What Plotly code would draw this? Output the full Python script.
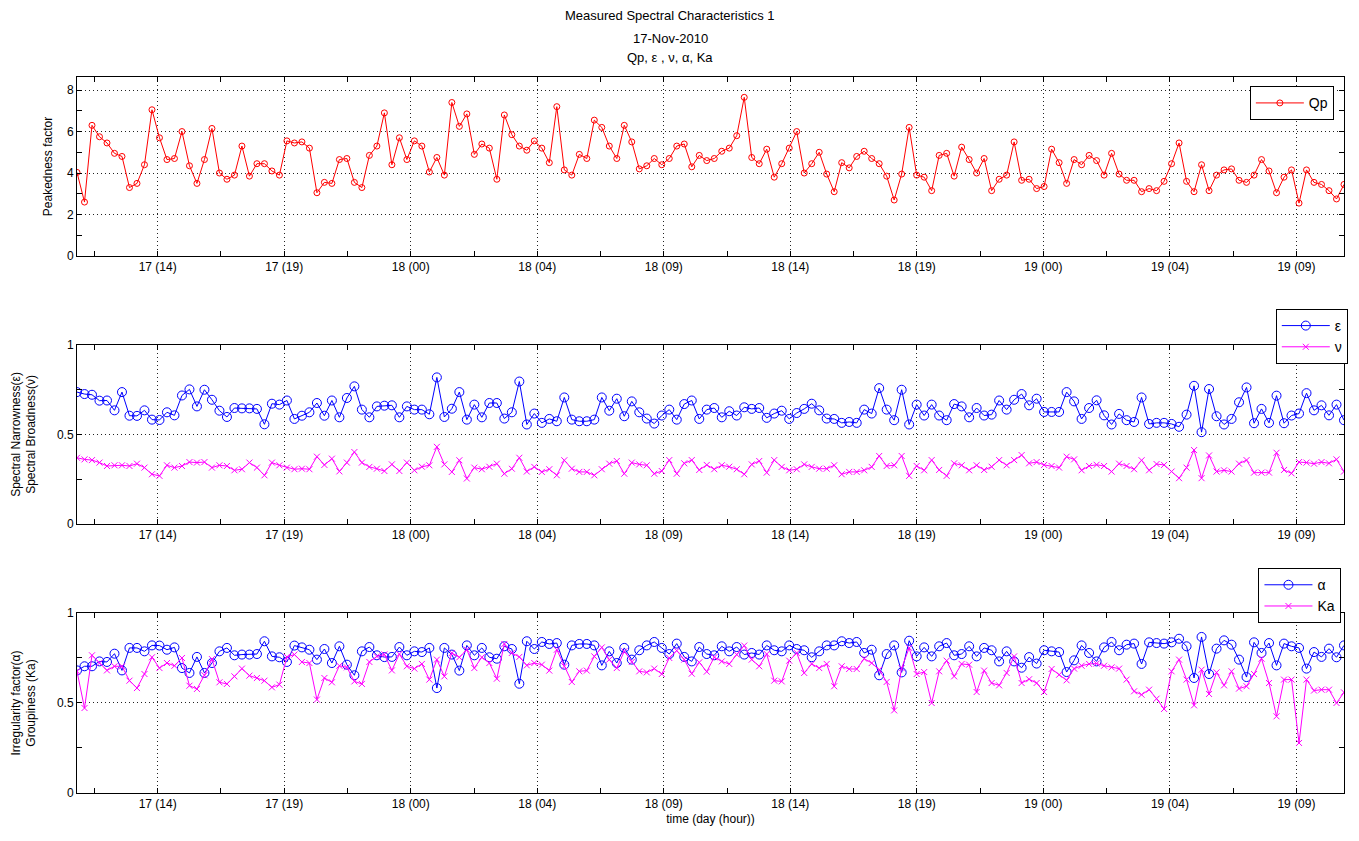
import plotly.graph_objects as go

# ---------------- data ----------------
start_hour = 11.44          # hours since 17-Nov-2010 00:00 of first sample
step_hours = 0.2844         # sampling interval (hours)

tick_hours = [14.5, 19.3, 24.1, 28.9, 33.7, 38.5, 43.3, 48.1, 52.9, 57.7]
tick_labels = ["17 (14)", "17 (19)", "18 (00)", "18 (04)", "18 (09)",
               "18 (14)", "18 (19)", "19 (00)", "19 (04)", "19 (09)"]
minor_tick_hours = [12.1, 16.9, 21.7, 26.5, 31.3, 36.1, 40.9, 45.7, 50.5, 55.3]

qp = [4.03, 2.6, 6.3, 5.75, 5.45, 4.95, 4.8, 3.3, 3.5, 4.4, 7.05, 5.7, 4.65, 4.7, 6.0, 4.35, 3.5, 4.65, 6.15, 4.0,
      3.7, 3.9, 5.3, 3.85, 4.45, 4.45, 4.1, 3.9, 5.55, 5.45, 5.5, 5.2, 3.05, 3.55, 3.5, 4.65, 4.7, 3.55, 3.3, 4.85,
      5.3, 6.9,
      4.4, 5.7, 4.65, 5.55, 5.3, 4.05, 4.75, 3.9, 7.4, 6.25, 6.85, 4.9, 5.4, 5.2, 3.7, 6.8, 5.85, 5.3, 5.1, 5.55,
      5.2, 4.5, 7.2, 4.15, 3.9, 4.9, 4.7, 6.55, 6.2, 5.3, 4.7, 6.3, 5.5, 4.2, 4.35, 4.7, 4.4, 4.7, 5.3, 5.4, 4.3,
      4.85, 4.6,
      4.7, 5.05, 5.2, 5.8, 7.65, 4.75, 4.45, 5.15, 3.8, 4.45, 5.2, 6.0, 4.0, 4.45, 5.0, 3.95, 3.1, 4.5, 4.25, 4.8,
      5.05, 4.7, 4.45, 3.85, 2.7, 3.95, 6.2, 3.9, 3.8, 3.15, 4.85, 4.95, 3.85, 5.25, 4.65, 4.0, 4.7, 3.15, 3.7, 3.9,
      5.5, 3.65, 3.7,
      3.25, 3.35, 5.15, 4.5, 3.5, 4.65, 4.4, 4.85, 4.6, 3.9, 4.95, 3.95, 3.65, 3.65, 3.1, 3.25, 3.15, 3.6, 4.45,
      5.45, 3.6, 3.1, 4.4, 3.15, 3.9, 4.15, 4.2, 3.65, 3.55, 3.9, 4.65, 4.1, 3.05, 3.8, 4.15, 2.55, 4.15, 3.55,
      3.45, 3.15, 2.75, 3.45]

eps = [0.737, 0.726, 0.722, 0.689, 0.69, 0.635, 0.737, 0.605, 0.604, 0.635, 0.583, 0.581, 0.624, 0.607, 0.718,
       0.752, 0.657, 0.75, 0.694, 0.633, 0.598, 0.648, 0.646, 0.646, 0.643, 0.557, 0.672, 0.667, 0.69, 0.587,
       0.605, 0.624, 0.676, 0.605, 0.69, 0.596, 0.704, 0.769, 0.639, 0.596, 0.657, 0.661,
       0.663, 0.596, 0.657, 0.639, 0.639, 0.613, 0.819, 0.598, 0.644, 0.737, 0.583, 0.667, 0.596, 0.676, 0.676,
       0.589, 0.624, 0.796, 0.556, 0.617, 0.565, 0.587, 0.574, 0.707, 0.583, 0.574, 0.574, 0.583, 0.707, 0.633,
       0.7, 0.602, 0.685, 0.624, 0.589, 0.561, 0.606, 0.639, 0.583, 0.67, 0.69, 0.587, 0.639,
       0.648, 0.596, 0.63, 0.606, 0.652, 0.643, 0.648, 0.593, 0.617, 0.633, 0.587, 0.62, 0.643, 0.672, 0.635,
       0.589, 0.587, 0.565, 0.57, 0.565, 0.639, 0.617, 0.759, 0.639, 0.58, 0.75, 0.556, 0.667, 0.606, 0.667,
       0.606, 0.58, 0.67, 0.657, 0.596, 0.648, 0.606, 0.611, 0.69, 0.639, 0.694, 0.726, 0.663,
       0.7, 0.626, 0.626, 0.626, 0.737, 0.685, 0.587, 0.648, 0.691, 0.607, 0.556, 0.615, 0.58, 0.57, 0.707,
       0.559, 0.565, 0.565, 0.559, 0.543, 0.611, 0.772, 0.513, 0.754, 0.602, 0.556, 0.587, 0.68, 0.763, 0.563,
       0.643, 0.565, 0.717, 0.563, 0.606, 0.617, 0.731, 0.635, 0.663, 0.607, 0.667, 0.58]

nu = [0.37, 0.361, 0.357, 0.343, 0.324, 0.328, 0.328, 0.324, 0.337, 0.315, 0.278, 0.269, 0.328, 0.315, 0.324,
      0.346, 0.343, 0.346, 0.315, 0.328, 0.324, 0.3, 0.306, 0.343, 0.315, 0.272, 0.343, 0.328, 0.315, 0.306,
      0.309, 0.306, 0.376, 0.33, 0.365, 0.294, 0.343, 0.402, 0.343, 0.319, 0.309, 0.296,
      0.333, 0.296, 0.343, 0.3, 0.32, 0.328, 0.431, 0.333, 0.291, 0.356, 0.254, 0.315, 0.306, 0.32, 0.337,
      0.281, 0.309, 0.37, 0.293, 0.319, 0.291, 0.306, 0.272, 0.356, 0.309, 0.291, 0.291, 0.272, 0.306, 0.337,
      0.352, 0.281, 0.343, 0.333, 0.328, 0.281, 0.296, 0.357, 0.281, 0.339, 0.357, 0.302, 0.33,
      0.306, 0.328, 0.32, 0.306, 0.278, 0.333, 0.352, 0.287, 0.357, 0.319, 0.3, 0.306, 0.333, 0.319, 0.309,
      0.309, 0.328, 0.278, 0.291, 0.291, 0.3, 0.319, 0.38, 0.324, 0.328, 0.38, 0.269, 0.324, 0.3, 0.357, 0.302,
      0.269, 0.339, 0.328, 0.3, 0.328, 0.302, 0.32, 0.357, 0.328, 0.357, 0.385, 0.339,
      0.346, 0.33, 0.324, 0.315, 0.376, 0.361, 0.3, 0.324, 0.331, 0.324, 0.293, 0.337, 0.324, 0.306, 0.356,
      0.3, 0.335, 0.33, 0.293, 0.256, 0.315, 0.413, 0.256, 0.383, 0.293, 0.3, 0.293, 0.337, 0.357, 0.287,
      0.287, 0.287, 0.398, 0.302, 0.283, 0.346, 0.343, 0.337, 0.346, 0.339, 0.361, 0.293]

alpha = [0.681, 0.704, 0.704, 0.731, 0.728, 0.774, 0.681, 0.806, 0.806, 0.787, 0.82, 0.819, 0.796, 0.809, 0.694,
         0.667, 0.756, 0.667, 0.722, 0.787, 0.806, 0.765, 0.769, 0.769, 0.772, 0.843, 0.759, 0.754, 0.728, 0.819,
         0.809, 0.796, 0.741, 0.8, 0.722, 0.815, 0.713, 0.654, 0.787, 0.811, 0.765, 0.755,
         0.756, 0.811, 0.765, 0.787, 0.783, 0.806, 0.583, 0.806, 0.769, 0.68, 0.82, 0.765, 0.806, 0.754, 0.746,
         0.815, 0.8, 0.607, 0.843, 0.8, 0.839, 0.828, 0.833, 0.713, 0.82, 0.828, 0.828, 0.82, 0.709, 0.787,
         0.722, 0.806, 0.741, 0.793, 0.82, 0.839, 0.806, 0.772, 0.83, 0.756, 0.731, 0.811, 0.772,
         0.765, 0.815, 0.787, 0.811, 0.769, 0.778, 0.769, 0.82, 0.793, 0.787, 0.82, 0.8, 0.793, 0.754, 0.787,
         0.82, 0.82, 0.843, 0.833, 0.839, 0.778, 0.796, 0.654, 0.772, 0.82, 0.67, 0.846, 0.759, 0.809, 0.759,
         0.815, 0.833, 0.765, 0.772, 0.815, 0.759, 0.806, 0.793, 0.731, 0.787, 0.731, 0.696, 0.755,
         0.719, 0.793, 0.787, 0.783, 0.672, 0.737, 0.82, 0.778, 0.731, 0.809, 0.839, 0.793, 0.824, 0.83, 0.717,
         0.837, 0.833, 0.83, 0.837, 0.857, 0.815, 0.639, 0.867, 0.661, 0.802, 0.848, 0.824, 0.741, 0.644, 0.837,
         0.778, 0.833, 0.709, 0.83, 0.815, 0.806, 0.691, 0.783, 0.756, 0.802, 0.754, 0.82]

ka = [0.676, 0.472, 0.765, 0.722, 0.681, 0.704, 0.704, 0.624, 0.583, 0.661, 0.754, 0.694, 0.722, 0.707, 0.75,
      0.596, 0.578, 0.654, 0.744, 0.615, 0.606, 0.648, 0.691, 0.652, 0.639, 0.624, 0.587, 0.602, 0.756, 0.769,
      0.728, 0.722, 0.519, 0.639, 0.615, 0.707, 0.698, 0.62, 0.606, 0.728, 0.759, 0.77,
      0.681, 0.772, 0.704, 0.691, 0.717, 0.63, 0.741, 0.648, 0.778, 0.754, 0.796, 0.694, 0.754, 0.722, 0.635,
      0.828, 0.778, 0.756, 0.709, 0.722, 0.713, 0.68, 0.796, 0.704, 0.617, 0.676, 0.68, 0.759, 0.809, 0.741,
      0.694, 0.787, 0.728, 0.676, 0.67, 0.691, 0.661, 0.75, 0.791, 0.741, 0.663, 0.726, 0.674,
      0.754, 0.731, 0.717, 0.769, 0.819, 0.741, 0.704, 0.772, 0.624, 0.62, 0.735, 0.778, 0.667, 0.717, 0.694,
      0.717, 0.593, 0.704, 0.689, 0.689, 0.746, 0.722, 0.685, 0.617, 0.459, 0.694, 0.806, 0.661, 0.672, 0.5,
      0.676, 0.735, 0.648, 0.717, 0.713, 0.561, 0.68, 0.611, 0.598, 0.667, 0.759, 0.611, 0.632,
      0.611, 0.561, 0.689, 0.657, 0.626, 0.691, 0.707, 0.717, 0.719, 0.707, 0.698, 0.691, 0.63, 0.565, 0.546,
      0.574, 0.524, 0.467, 0.676, 0.741, 0.63, 0.487, 0.685, 0.55, 0.67, 0.598, 0.676, 0.58, 0.593, 0.661,
      0.746, 0.611, 0.426, 0.63, 0.63, 0.278, 0.63, 0.569, 0.574, 0.574, 0.5, 0.559]

hours = [start_hour + i * step_hours for i in range(len(qp))]

# ---------------- figure ----------------
FONT = "Liberation Sans, Arial, Helvetica, sans-serif"
RED, BLUE, MAG = "#ff0000", "#0000ff", "#ff00ff"

fig = go.Figure()

fig.add_trace(go.Scatter(x=hours, y=qp, name="Qp", mode="lines+markers",
                         line=dict(color=RED, width=1),
                         marker=dict(symbol="circle-open", size=6, color=RED, line=dict(width=1)),
                         xaxis="x", yaxis="y", legend="legend"))
fig.add_trace(go.Scatter(x=hours, y=eps, name="ε", mode="lines+markers",
                         line=dict(color=BLUE, width=1),
                         marker=dict(symbol="circle-open", size=9, color=BLUE, line=dict(width=1)),
                         xaxis="x2", yaxis="y2", legend="legend2"))
fig.add_trace(go.Scatter(x=hours, y=nu, name="ν", mode="lines+markers",
                         line=dict(color=MAG, width=1),
                         marker=dict(symbol="x-thin-open", size=6, color=MAG, line=dict(width=1, color=MAG)),
                         xaxis="x2", yaxis="y2", legend="legend2"))
fig.add_trace(go.Scatter(x=hours, y=alpha, name="α", mode="lines+markers",
                         line=dict(color=BLUE, width=1),
                         marker=dict(symbol="circle-open", size=9, color=BLUE, line=dict(width=1)),
                         xaxis="x3", yaxis="y3", legend="legend3"))
fig.add_trace(go.Scatter(x=hours, y=ka, name="Ka", mode="lines+markers",
                         line=dict(color=MAG, width=1),
                         marker=dict(symbol="x-thin-open", size=6, color=MAG, line=dict(width=1, color=MAG)),
                         xaxis="x3", yaxis="y3", legend="legend3"))

xrange = [hours[0], hours[-1]]
tickfont = dict(family=FONT, size=12, color="black")
GRID_DASH = "1px,3px"


def xaxis(anchor):
    return dict(domain=[0, 1], anchor=anchor, range=xrange,
                tickvals=tick_hours, ticktext=tick_labels, tickfont=tickfont,
                ticks="inside", ticklen=5, tickcolor="black",
                showline=True, linecolor="black", linewidth=1, mirror="ticks",
                showgrid=True, gridcolor="#222222", griddash=GRID_DASH, gridwidth=1,
                zeroline=False,
                minor=dict(tickvals=minor_tick_hours, ticks="inside", ticklen=5,
                           tickcolor="black", showgrid=False))


def yaxis(anchor, dom, rng, tv, tt, mv, title, standoff):
    return dict(domain=dom, anchor=anchor, range=rng,
                tickvals=tv, ticktext=tt, tickfont=tickfont,
                ticks="inside", ticklen=5, tickcolor="black",
                showline=True, linecolor="black", linewidth=1, mirror="ticks",
                showgrid=True, gridcolor="#222222", griddash=GRID_DASH, gridwidth=1,
                zeroline=False,
                minor=dict(tickvals=mv, ticks="inside", ticklen=5,
                           tickcolor="black", showgrid=False),
                title=dict(text=title, font=dict(family=FONT, size=12, color="black"),
                           standoff=standoff))


fig.update_layout(
    width=1359, height=841,
    margin=dict(l=77, r=11, t=77, b=48),
    paper_bgcolor="white", plot_bgcolor="white",
    font=dict(family=FONT, size=12, color="black"),
    showlegend=True,
    xaxis=xaxis("y"),
    xaxis2=xaxis("y2"),
    xaxis3=dict(xaxis("y3"), title=dict(text="time (day (hour))",
                                        font=dict(family=FONT, size=12, color="black"),
                                        standoff=4)),
    yaxis=yaxis("x", [0.75, 1.0], [0, 8.63], [0, 2, 4, 6, 8], ["0", "2", "4", "6", "8"],
                [1, 3, 5, 7], "Peakedness factor", 11),
    yaxis2=yaxis("x2", [0.3757, 0.6257], [0, 1], [0, 0.5, 1], ["0", "0.5", "1"], [0.25, 0.75],
                 "Spectral Narrowness(ε)<br>Spectral Broadness(ν)", 18),
    yaxis3=yaxis("x3", [0.0, 0.2514], [0, 1], [0, 0.5, 1], ["0", "0.5", "1"], [0.25, 0.75],
                 "Irregularity factor(α)<br>Groupiness (Ka)", 18),
    legend=dict(x=0.992, y=0.987, xanchor="right", yanchor="top",
                bgcolor="white", bordercolor="black", borderwidth=1,
                font=dict(family=FONT, size=14), itemwidth=48),
    legend2=dict(x=1.003, y=0.676, xanchor="right", yanchor="top",
                 bgcolor="white", bordercolor="black", borderwidth=1,
                 font=dict(family=FONT, size=14), itemwidth=48),
    legend3=dict(x=0.998, y=0.314, xanchor="right", yanchor="top",
                 bgcolor="white", bordercolor="black", borderwidth=1,
                 font=dict(family=FONT, size=14), itemwidth=48),
)

title_lines = ["Measured Spectral Characteristics 1", "17-Nov-2010", "Qp, ε , ν, α, Ka"]
title_y = [16, 39, 58]
for txt, ypx in zip(title_lines, title_y):
    fig.add_annotation(text=txt, xref="paper", yref="paper",
                       x=(672 - 77) / 1271, y=1 + (77 - ypx) / 716,
                       xanchor="center", yanchor="middle", showarrow=False,
                       font=dict(family=FONT, size=13, color="black"))

fig.write_html("out.html")
